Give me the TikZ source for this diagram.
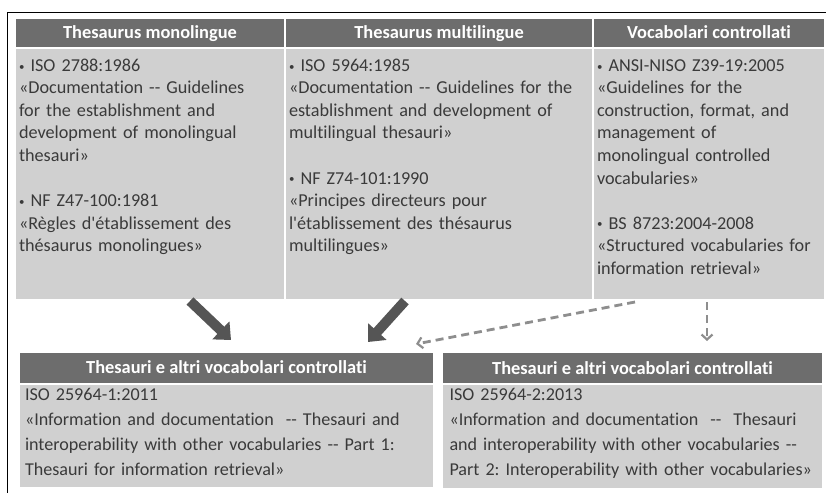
\documentclass[tikz,border=0pt]{standalone}
\usepackage{fontspec}
\newfontfamily\carlito{Carlito}[Ligatures=NoCommon]
\usetikzlibrary{arrows.meta,calc}

\definecolor{header}{HTML}{6d6d6d}
\definecolor{panel}{HTML}{d0d0d0}
\definecolor{ink}{HTML}{3a3a3a}
\definecolor{arrow}{HTML}{555555}
\definecolor{link}{HTML}{8e8e8e}

\newcommand{\bul}{\raisebox{1.2pt}{\scalebox{0.6}{•}}}

\begin{document}
\begin{tikzpicture}[
  x=1pt, y=-1pt,
  line join=round,
  every node/.style={inner sep=0pt, outer sep=0pt, anchor=north west},
  head/.style={fill=header, text=white, font=\carlito\bfseries\fontsize{18.4}{20}\selectfont,
    minimum height=28pt, text height=12pt, text depth=0pt},
  panel/.style={fill=panel, text=ink, font=\carlito\fontsize{18.2}{22.5}\selectfont\frenchspacing,
    align=left, inner xsep=3pt, text height=22.5pt},
  subpanel/.style={panel, font=\carlito\fontsize{18.1}{25}\selectfont\frenchspacing, text height=15.5pt},
  bigarrow/.style={draw=arrow, line width=10pt, -{Triangle[length=14pt,width=24pt]}},
  dashlink/.style={draw=link, line width=2.8pt, dash pattern=on 8pt off 5pt,
    -{Straight Barb[length=5pt,width=11pt,line width=2.2pt]}},
]
\useasboundingbox (0,0) rectangle (826,492);
\draw[line width=1pt] (830,12.5) -- (7.5,12.5) -- (7.5,500);

% standards per kind of vocabulary
\node[head, minimum width=268pt] (hmono) at (16,19) {Thesaurus monolingue};
\node[head, minimum width=306pt] (hmulti) at (286,19) {Thesaurus multilingue};
\node[head, minimum width=230pt] (hvoc) at (594,19) {Vocabolari controllati};

\node[panel, text width=262pt, text depth=227.5pt] (bmono) at (16,49)
  {\bul\ ISO 2788:1986\\
   «Documentation -- Guidelines\\
   for the establishment and\\
   development of monolingual\\
   thesauri»\\[22.5pt]
   \bul\ NF Z47-100:1981\\
   «Règles d'établissement des\\
   thésaurus monolingues»};
\node[panel, text width=300pt, text depth=227.5pt] (bmulti) at (286,49)
  {\bul\ ISO 5964:1985\\
   «Documentation -- Guidelines for the\\
   establishment and development of\\
   multilingual thesauri»\\[22.5pt]
   \bul\ NF Z74-101:1990\\
   «Principes directeurs pour\\
   l'établissement des thésaurus\\
   multilingues»};
\node[panel, text width=224pt, text depth=227.5pt] (bvoc) at (594,49)
  {\bul\ ANSI-NISO Z39-19:2005\\
   «Guidelines for the\\
   construction, format, and\\
   management of\\
   monolingual controlled\\
   vocabularies»\\[22.5pt]
   \bul\ BS 8723:2004-2008\\
   «Structured vocabularies for\\
   information retrieval»};

% ISO 25964
\node[head, minimum width=413pt, minimum height=29.5pt] (hsub1) at (20,353)
  {Thesauri e altri vocabolari controllati};
\node[head, minimum width=379pt, minimum height=30pt] (hsub2) at (443,353)
  {Thesauri e altri vocabolari controllati};
\node[subpanel, inner xsep=5pt, text width=403pt, text depth=86.5pt] (bsub1) at (20,385)
  {ISO 25964-1:2011\\
   «Information and documentation \ -- Thesauri and\\
   interoperability with other vocabularies -- Part 1:\\
   Thesauri for information retrieval»};
\node[subpanel, inner xsep=6.5pt, text width=366pt, text depth=87.5pt] (bsub2) at (443,385)
  {ISO 25964-2:2013\\
   «Information and documentation \ -- \ Thesauri\\
   and interoperability with other vocabularies --\\
   Part 2: Interoperability with other vocabularies»};

\draw[bigarrow] ([xshift=40pt,yshift=-2pt]bmono.south) -- ([xshift=4.5pt,yshift=13pt]hsub1.north);
\draw[bigarrow] ([xshift=-34pt,yshift=-2pt]bmulti.south) -- ([xshift=141.5pt,yshift=11pt]hsub1.north);
\draw[dashlink] ([xshift=-74pt,yshift=-3pt]bvoc.south) -- ([xshift=189.5pt,yshift=9pt]hsub1.north);
\draw[dashlink] ([xshift=-2pt,yshift=-3pt]bvoc.south) -- ($([xshift=-2pt]bvoc.south |- hsub2.north)+(0,-12)$);
\end{tikzpicture}
\end{document}
